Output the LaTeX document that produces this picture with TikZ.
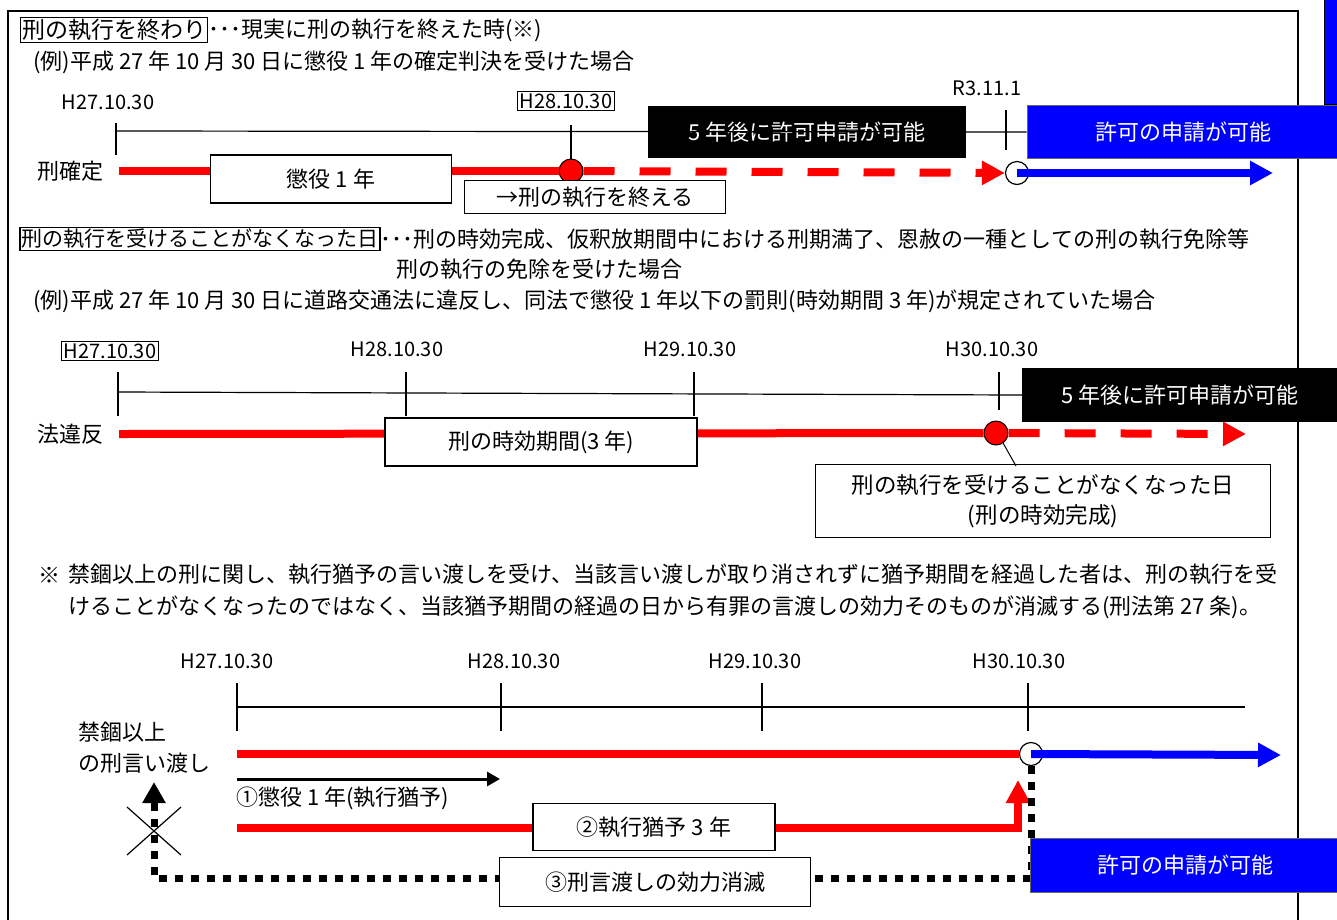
\documentclass[tikz,border=0pt]{standalone}
\usepackage{fontspec}
\setmainfont{Noto Sans CJK JP}
\usetikzlibrary{positioning,arrows.meta}

\begin{document}
\begin{tikzpicture}[x=1pt,y=-1pt,
  txt/.style={inner sep=0pt,font=\fontsize{22}{32}\selectfont},
  headbox/.style={txt,draw,line width=1.2pt,inner xsep=1.5pt,inner ysep=1.5pt},
  datelbl/.style={inner sep=2pt,font=\fontsize{20}{24}\selectfont},
  periodbox/.style={draw,line width=1.2pt,fill=white,inner sep=0pt,font=\fontsize{22}{30}\selectfont},
  blackbox/.style={fill=black,text=white,inner sep=0pt,font=\fontsize{22}{26}\selectfont},
  bluebox/.style={fill=blue,draw=black!60,line width=1pt,text=white,inner sep=0pt,font=\fontsize{22}{26}\selectfont},
  tline/.style={line width=1.2pt},
  redline/.style={red,line width=8pt},
  reddash/.style={red,line width=8pt,dash pattern=on 31pt off 25pt},
  bigtip/.style={-{Triangle[width=23pt,length=23pt]}},
  redpt/.style={circle,draw,line width=1pt,fill=red,minimum size=24pt,inner sep=0pt},
  openpt/.style={circle,draw,line width=1.2pt,fill=white,minimum size=23pt,inner sep=0pt},
  dotline/.style={line width=7pt,dash pattern=on 8pt off 8pt}]

\useasboundingbox (0,0) rectangle (1337,919);
% frame
\draw[line width=1.5pt] (8,925) -- (8,11) -- (1298,11) -- (1298,925);
\draw[fill=blue,line width=1pt] (1324,-5) rectangle (1342,104);

% row 1: end of the sentence
\node[headbox,font=\fontsize{23}{32}\selectfont] (hd1) at (114,30) {刑の執行を終わり};
\node[txt,right=0pt of hd1] (hd1t) {･･･現実に刑の執行を終えた時(※)};
\node[txt,anchor=west] (ex1) at (33,62) {(例)平成 27 年 10 月 30 日に懲役 1 年の確定判決を受けた場合};
\node[blackbox,minimum width=318pt,minimum height=52pt] (bk1) at (807,132) {5 年後に許可申請が可能};
\node[bluebox,minimum width=312pt,minimum height=53pt] (bl1) at (1183,132) {許可の申請が可能};
\draw[tline] (116,131) -- (bl1.west);
\foreach \x/\ya/\yb in {116/123/155,571/125/159,1006/110/150}
  \draw[tline] (\x,\ya) -- (\x,\yb);
\node[datelbl] (d11) at (108,102) {H27.10.30};
\node[datelbl,draw,line width=1.2pt] (d12) at (566,101) {H28.10.30};
\node[datelbl] (d13) at (987,88) {R3.11.1};
\node[txt] (lab1) at (70,171) {刑確定};
\node[redpt] (c11) at (571,171) {};
\node[openpt] (o11) at (1017,173) {};
\coordinate (e11) at (1273,173);
\draw[redline] ([xshift=16pt]lab1.east) -- (c11.west);
\draw[reddash,bigtip] (c11.east) -- (o11.west);
\draw[blue,line width=8pt,bigtip] (o11.center) -- (e11);
\node[periodbox,minimum width=241pt,minimum height=48pt] (p11) at (331,179) {懲役 1 年};
\node[periodbox,minimum width=261pt,minimum height=33pt] (p12) at (595,197) {→刑の執行を終える};

% row 2: no longer subject to execution
\node[headbox,font=\fontsize{21}{32}\selectfont] (hd2) at (200,239) {刑の執行を受けることがなくなった日};
\node[txt,right=0pt of hd2] (hd2t) {･･･刑の時効完成、仮釈放期間中における刑期満了、恩赦の一種としての刑の執行免除等};
\node[txt,anchor=west] (hd2u) at (396,269) {刑の執行の免除を受けた場合};
\node[txt,anchor=west] (ex2) at (33,301) {(例)平成 27 年 10 月 30 日に道路交通法に違反し、同法で懲役 1 年以下の罰則(時効期間 3 年)が規定されていた場合};
\node[blackbox,minimum width=316pt,minimum height=54pt] (bk2) at (1180,395) {5 年後に許可申請が可能};
\draw[tline] (118,392) -- (bk2.west);
\foreach \x/\yb in {118/416,406/416,694/416,999/410}
  \draw[tline] (\x,372) -- (\x,\yb);
\node[datelbl,draw,line width=1.2pt] (d21) at (110,351) {H27.10.30};
\node[datelbl] (d22) at (397,349) {H28.10.30};
\node[datelbl] (d23) at (690,349) {H29.10.30};
\node[datelbl] (d24) at (992,349) {H30.10.30};
\node[txt] (lab2) at (70,434) {法違反};
\node[redpt] (c21) at (996,433) {};
\coordinate (e21) at (1246,434);
\draw[redline] ([xshift=16pt]lab2.east) -- (c21.west);
\draw[reddash,bigtip] (c21.east) -- (e21);
\node[periodbox,minimum width=312pt,minimum height=48pt] (p21) at (541,442) {刑の時効期間(3 年)};
\node[periodbox,minimum width=455pt,minimum height=73pt,align=center,font=\fontsize{22.5}{30}\selectfont] (p22) at (1043,501) {刑の執行を受けることがなくなった日\\(刑の時効完成)};
\coordinate (pin2) at (1016,466);
\draw[line width=1pt] (c21.-55) -- (pin2);

% note
\node[txt] (nt0) at (49,575) {※};
\node[txt,anchor=west,align=left] (nt) at (68,591) {禁錮以上の刑に関し、執行猶予の言い渡しを受け、当該言い渡しが取り消されずに猶予期間を経過した者は、刑の執行を受\\けることがなくなったのではなく、当該猶予期間の経過の日から有罪の言渡しの効力そのものが消滅する(刑法第 27 条)。};

% row 3: suspended sentence
\foreach \x/\lbl [count=\i] in {227/H27.10.30,514/H28.10.30,755/H29.10.30,1019/H30.10.30}
  \node[datelbl] (d3\i) at (\x,661) {\lbl};
\draw[tline] (237,707) -- (1245,707);
\foreach \x in {237,501,762,1028}
  \draw[tline] (\x,683) -- (\x,731);
\node[txt,anchor=west,align=left,font=\fontsize{22}{31}\selectfont] (lab3) at (78,748) {禁錮以上\\の刑言い渡し};
\node[openpt] (o31) at (1031,754) {};
\coordinate (s31) at (237,754);
\coordinate (e31) at (1281,755);
\draw[redline] (s31) -- (o31.west);
\draw[blue,line width=8pt,bigtip] (o31.center) -- (e31);
\draw[line width=3pt,-{Triangle[width=14pt,length=13pt]}] (237,779) -- (500,779);
\node[txt,anchor=west] (lab4) at (236,798) {①懲役 1 年(執行猶予)};
\coordinate (up3) at (1018,780);
\draw[redline,bigtip] (237,828) -| (up3);
\node[periodbox,minimum width=242pt,minimum height=47pt] (p31) at (654,827) {②執行猶予 3 年};
\coordinate (hit) at (154,782);
\draw[dotline,-{Triangle[width=22pt,length=21pt]}] (o31.south) -- ++(0,112) -| (hit);
\draw[line width=1.2pt] (127,807) -- (181,855) (181,807) -- (127,855);
\node[periodbox,minimum width=311pt,minimum height=49pt] (p32) at (655,882) {③刑言渡しの効力消滅};
\node[bluebox,minimum width=310pt,minimum height=54pt] (bl3) at (1185,865) {許可の申請が可能};
\end{tikzpicture}
\end{document}
